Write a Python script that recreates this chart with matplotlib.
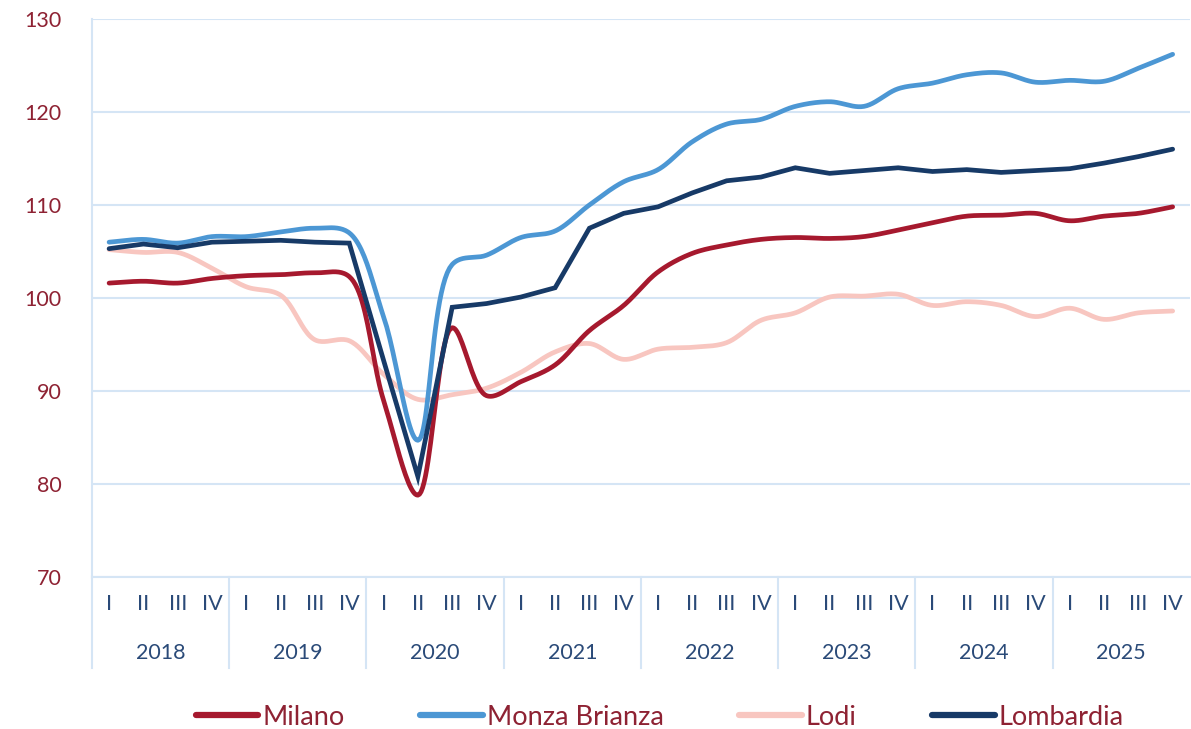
import matplotlib.pyplot as plt
import numpy as np
from matplotlib.lines import Line2D

plt.rcParams['font.family'] = ['Lato', 'DejaVu Sans']

years = ['2018', '2019', '2020', '2021', '2022', '2023', '2024', '2025']
quarters = ['I', 'II', 'III', 'IV']

milano = [101.6, 101.8, 101.6, 102.1, 102.4, 102.5, 102.7, 102.3,
          89.0, 78.8, 96.8, 89.5, 91.0, 92.8, 96.5, 99.2,
          102.8, 104.8, 105.7, 106.3, 106.5, 106.4, 106.6, 107.3,
          108.1, 108.8, 108.9, 109.1, 108.3, 108.8, 109.1, 109.8]
monza = [106.0, 106.3, 105.9, 106.6, 106.6, 107.1, 107.5, 107.0,
         98.0, 84.7, 103.6, 104.6, 106.5, 107.2, 110.0, 112.5,
         113.8, 116.8, 118.7, 119.2, 120.6, 121.1, 120.6, 122.5,
         123.1, 124.0, 124.2, 123.2, 123.4, 123.3, 124.7, 126.2]
lodi = [105.2, 104.9, 104.9, 103.2, 101.2, 100.3, 95.5, 95.4,
        91.8, 89.1, 89.6, 90.3, 92.0, 94.2, 95.1, 93.4,
        94.5, 94.7, 95.2, 97.6, 98.4, 100.1, 100.2, 100.4,
        99.2, 99.6, 99.2, 98.0, 98.9, 97.7, 98.4, 98.6]
lombardia = [105.3, 105.8, 105.4, 106.0, 106.1, 106.2, 106.0, 105.9,
             93.3, 80.8, 99.0, 99.4, 100.1, 101.1, 107.5, 109.1,
             109.8, 111.3, 112.6, 113.0, 114.0, 113.4, 113.7, 114.0,
             113.6, 113.8, 113.5, 113.7, 113.9, 114.5, 115.2, 116.0]

RED = '#A6192E'
BLUE = '#4C97D4'
PINK = '#F8C6C0'
NAVY = '#173A67'
GRID = '#D5E5F5'
TXT_RED = '#8E2233'
TXT_NAVY = '#2A4A78'

# pixel size of one quarter / one index point, used to smooth in screen space
SX, SY = 34.4, 9.3


def smooth(y, n=24):
    # centripetal Catmull-Rom through the points (close to a spreadsheet "smoothed line")
    y = np.asarray(y, dtype=float)
    x = np.arange(len(y), dtype=float)
    P = np.column_stack([x * SX, y * SY])
    P = np.vstack([2 * P[0] - P[1], P, 2 * P[-1] - P[-2]])
    out = []
    for i in range(len(y) - 1):
        p0, p1, p2, p3 = P[i], P[i + 1], P[i + 2], P[i + 3]
        t0 = 0.0
        t1 = t0 + np.linalg.norm(p1 - p0) ** 0.5
        t2 = t1 + np.linalg.norm(p2 - p1) ** 0.5
        t3 = t2 + np.linalg.norm(p3 - p2) ** 0.5
        t = np.linspace(t1, t2, n, endpoint=False)[:, None]
        a1 = (t1 - t) / (t1 - t0) * p0 + (t - t0) / (t1 - t0) * p1
        a2 = (t2 - t) / (t2 - t1) * p1 + (t - t1) / (t2 - t1) * p2
        a3 = (t3 - t) / (t3 - t2) * p2 + (t - t2) / (t3 - t2) * p3
        b1 = (t2 - t) / (t2 - t0) * a1 + (t - t0) / (t2 - t0) * a2
        b2 = (t3 - t) / (t3 - t1) * a2 + (t - t1) / (t3 - t1) * a3
        c = (t2 - t) / (t2 - t1) * b1 + (t - t1) / (t2 - t1) * b2
        out.append(c)
    out.append(P[-2][None, :])
    out = np.vstack(out)
    return out[:, 0] / SX, out[:, 1] / SY


fig = plt.figure(figsize=(11.91, 7.29), dpi=100)
ax = fig.add_axes([0.0772, 0.2085, 0.9218, 0.7655])

lw = 3.4
for data, col in [(lodi, PINK), (milano, RED), (monza, BLUE)]:
    xs, ys = smooth(data)
    ax.plot(xs, ys, color=col, lw=lw, solid_capstyle='round', zorder=3)
ax.plot(np.arange(len(lombardia)), lombardia, color=NAVY, lw=lw,
        solid_capstyle='round', solid_joinstyle='miter', zorder=4)

ax.set_xlim(-0.5, 31.5)
ax.set_ylim(70, 130)
ax.set_yticks(np.arange(70, 131, 10))
ax.yaxis.grid(True, color=GRID, lw=1.5)
ax.set_axisbelow(True)
for s in ['top', 'right']:
    ax.spines[s].set_visible(False)
ax.spines['left'].set_color(GRID)
ax.spines['left'].set_linewidth(1.5)
ax.spines['bottom'].set_color(GRID)
ax.spines['bottom'].set_linewidth(1.5)
ax.tick_params(axis='y', length=0, pad=22, labelsize=15.5, labelcolor=TXT_RED)

ax.set_xticks(np.arange(32))
ax.set_xticklabels(quarters * len(years))
ax.tick_params(axis='x', length=0, pad=12, labelsize=15.5, labelcolor=TXT_NAVY)

# year labels and separators under the axis
trans = ax.get_xaxis_transform()
for k, yr in enumerate(years):
    ax.text(4 * k + 1.5, -0.137, yr, transform=trans, ha='center', va='center',
            fontsize=15.5, color=TXT_NAVY)
for k in range(len(years)):
    ax.plot([4 * k - 0.5, 4 * k - 0.5], [0, -0.163], transform=trans,
            color=GRID, lw=1.5, clip_on=False)

handles = [Line2D([], [], color=c, lw=4.5, solid_capstyle='round')
           for c in [RED, BLUE, PINK, NAVY]]
leg = fig.legend(handles, ['Milano', 'Monza Brianza', 'Lodi', 'Lombardia'],
                 loc='center', bbox_to_anchor=(0.554, 0.016), ncol=4, frameon=False,
                 fontsize=19.5, handlelength=2.3, handletextpad=0.15, columnspacing=2.8)
for t in leg.get_texts():
    t.set_color(TXT_RED)

fig.savefig('out.png', dpi=100)
